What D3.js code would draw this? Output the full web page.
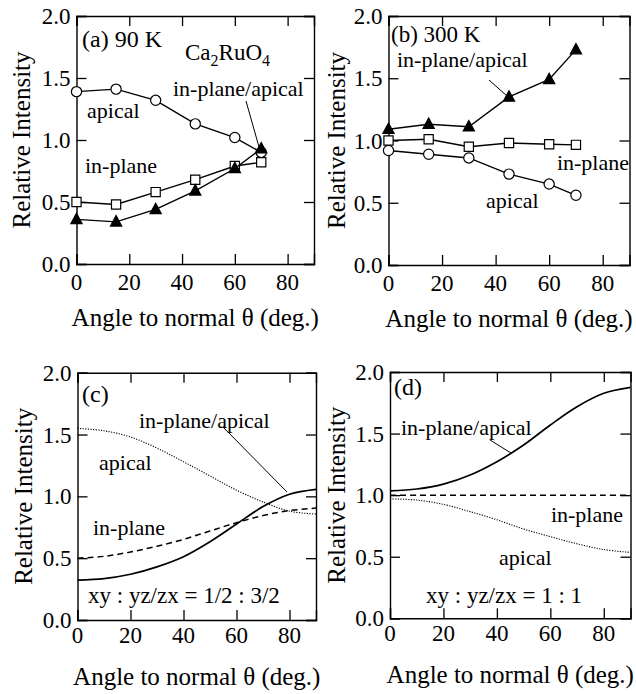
<!DOCTYPE html>
<html><head><meta charset="utf-8">
<script src="https://cdn.jsdelivr.net/npm/d3@7"></script>
<style>
html,body{margin:0;padding:0;background:#fff;}
svg text{font-family:"Liberation Serif","Times New Roman",serif;fill:#000;}
</style>
</head><body>
<svg id="chart" width="636" height="694" font-family="Liberation Serif, Times New Roman, serif"></svg>
<script>
// ---------- data ----------
const anglesMeas = [0, 15, 30, 45, 60, 70];
// (a) 90 K
const a_apical   = [1.39, 1.41, 1.32, 1.13, 1.02, 0.90];
const a_inplane  = [0.50, 0.48, 0.58, 0.68, 0.79, 0.82];
const a_ratio    = [0.36, 0.34, 0.44, 0.59, 0.77, 0.93];
// (b) 300 K
const b_apical   = [0.92, 0.89, 0.86, 0.73, 0.65, 0.56];
const b_inplane  = [1.00, 1.01, 0.95, 0.98, 0.97, 0.965];
const b_ratio    = [1.09, 1.13, 1.11, 1.35, 1.49, 1.73];
// (c), (d) calculated curves
const anglesCalc = [0, 10, 20, 30, 40, 50, 60, 70, 80, 90];
const c_apical   = [1.55, 1.53, 1.48, 1.39, 1.28, 1.165, 1.05, 0.955, 0.88, 0.857];
const c_inplane  = [0.50, 0.515, 0.55, 0.597, 0.652, 0.72, 0.787, 0.845, 0.885, 0.905];
const c_ratio    = [0.323, 0.335, 0.37, 0.43, 0.512, 0.633, 0.776, 0.917, 1.017, 1.057];
const d_apical   = [0.97, 0.96, 0.925, 0.866, 0.80, 0.725, 0.663, 0.605, 0.558, 0.535];
const d_inplane  = [1.0, 1.0, 1.0, 1.0, 1.0, 1.0, 1.0, 1.0, 1.0, 1.0];
const d_ratio    = [1.034, 1.05, 1.09, 1.164, 1.272, 1.407, 1.57, 1.718, 1.827, 1.875];
// axes
const xTicks = [0, 20, 40, 60, 80];
const yTicks = [0, 0.5, 1.0, 1.5, 2.0];
const xDomain = [0, 90];
const yDomain = [0, 2];
const xLabel = "Angle to normal θ (deg.)";
const yLabel = "Relative Intensity";

// ---------- layout ----------
const svg = d3.select("#chart");
const panels = [
  {id:"a", box:{l:76.5, r:314, t:16, b:264}, tickDy:26, xlabY:326, ylabX:30},
  {id:"b", box:{l:388.5, r:629.5, t:16, b:265}, tickDy:26, xlabY:327, ylabX:345},
  {id:"c", box:{l:77.5, r:316, t:372.7, b:620}, tickDy:23, xlabY:685, ylabX:31.5},
  {id:"d", box:{l:390, r:630.5, t:372, b:618.3}, tickDy:23, xlabY:683, ylabX:344.5}
];

function makePanel(p){
  const g = svg.append("g");
  const x = d3.scaleLinear().domain(xDomain).range([p.box.l, p.box.r]);
  const y = d3.scaleLinear().domain(yDomain).range([p.box.b, p.box.t]);
  const tl = 10;
  const bottom = g.append("g").attr("transform",`translate(0,${p.box.b})`)
    .call(d3.axisBottom(x).tickValues(xTicks).tickSize(-tl).tickFormat(""));
  const top = g.append("g").attr("transform",`translate(0,${p.box.t})`)
    .call(d3.axisTop(x).tickValues(xTicks).tickSize(-tl).tickFormat(""));
  const left = g.append("g").attr("transform",`translate(${p.box.l},0)`)
    .call(d3.axisLeft(y).tickValues(yTicks).tickSize(-tl).tickFormat(""));
  const right = g.append("g").attr("transform",`translate(${p.box.r},0)`)
    .call(d3.axisRight(y).tickValues(yTicks).tickSize(-tl).tickFormat(""));
  [bottom, top, left, right].forEach(a=>{
    a.select(".domain").attr("stroke","#000").attr("stroke-width",1.4);
    a.selectAll(".tick line").attr("stroke","#000").attr("stroke-width",1.3);
  });
  g.append("g").selectAll("text").data(xTicks).join("text")
    .attr("x", d=>x(d)).attr("y", p.box.b + p.tickDy)
    .attr("text-anchor","middle").attr("font-size",23).text(d=>d);
  g.append("g").selectAll("text").data(yTicks).join("text")
    .attr("x", p.box.l - 6).attr("y", d=>y(d)+8)
    .attr("text-anchor","end").attr("font-size",23).text(d=>d3.format(".1f")(d));
  g.append("text").attr("x",(p.box.l+p.box.r)/2).attr("y",p.xlabY)
    .attr("text-anchor","middle").attr("font-size",25).text(xLabel);
  g.append("text").attr("transform",`translate(${p.ylabX},${(p.box.t+p.box.b)/2}) rotate(-90)`)
    .attr("text-anchor","middle").attr("font-size",25).text(yLabel);
  return {g, x, y};
}

const P = panels.map(makePanel);

function measured(pan, vals, shape){
  const pts = anglesMeas.map((a,i)=>[a, vals[i]]);
  const line = d3.line().x(d=>pan.x(d[0])).y(d=>pan.y(d[1]));
  pan.g.append("path").attr("d", line(pts)).attr("fill","none")
    .attr("stroke","#000").attr("stroke-width",1.4);
  const sel = pan.g.append("g").selectAll("path").data(pts).join("path")
    .attr("transform", d=>`translate(${pan.x(d[0])},${pan.y(d[1])})`)
    .attr("stroke","#000").attr("stroke-width",1.2);
  if(shape==="circle"){
    sel.attr("d", d3.symbol(d3.symbolCircle, 82)()).attr("fill","#fff");
  } else if(shape==="square"){
    sel.attr("d", "M-4.6,-4.6H4.6V4.6H-4.6Z").attr("fill","#fff");
  } else {
    sel.attr("d", "M0,-6.2L5.6,4.2L-5.6,4.2Z").attr("fill","#000");
  }
}

function calc(pan, vals, style){
  const pts = anglesCalc.map((a,i)=>[a, vals[i]]);
  const line = d3.line().x(d=>pan.x(d[0])).y(d=>pan.y(d[1])).curve(d3.curveCatmullRom.alpha(0.5));
  const p = pan.g.append("path").attr("d", line(pts)).attr("fill","none").attr("stroke","#000");
  if(style==="solid") p.attr("stroke-width",1.7);
  if(style==="dashed") p.attr("stroke-width",1.5).attr("stroke-dasharray","6,4");
  if(style==="dotted") p.attr("stroke-width",1.1).attr("stroke-dasharray","1.2,1.4");
}

function label(pan, x, y, txt, size, anchor){
  return pan.g.append("text").attr("x",x).attr("y",y).attr("font-size",size||22)
    .attr("text-anchor",anchor||"start").text(txt);
}
function pointer(pan, x1,y1,x2,y2){
  pan.g.append("line").attr("x1",x1).attr("y1",y1).attr("x2",x2).attr("y2",y2)
    .attr("stroke","#000").attr("stroke-width",1);
}

// (a)
const A = P[0];
measured(A, a_apical, "circle");
measured(A, a_inplane, "square");
measured(A, a_ratio, "triangle");
label(A, 82, 47, "(a) 90 K", 24);
const ca = A.g.append("text").attr("x",185).attr("y",60).attr("font-size",23);
ca.append("tspan").text("Ca");
ca.append("tspan").attr("dy",6).attr("font-size",16).text("2");
ca.append("tspan").attr("dy",-6).text("RuO");
ca.append("tspan").attr("dy",6).attr("font-size",16).text("4");
label(A, 173, 96, "in-plane/apical");
pointer(A, 246, 101, 259, 147);
label(A, 87, 118, "apical");
label(A, 85, 173, "in-plane");

// (b)
const B = P[1];
measured(B, b_apical, "circle");
measured(B, b_inplane, "square");
measured(B, b_ratio, "triangle");
label(B, 391, 42, "(b) 300 K", 23);
label(B, 397, 67, "in-plane/apical");
pointer(B, 489, 80, 507, 96);
label(B, 629, 170, "in-plane", 22, "end");
label(B, 486, 208, "apical");

// (c)
const C = P[2];
calc(C, c_apical, "dotted");
calc(C, c_inplane, "dashed");
calc(C, c_ratio, "solid");
label(C, 82, 402, "(c)", 24);
label(C, 139, 428, "in-plane/apical");
pointer(C, 223, 427, 287, 492);
label(C, 99, 470, "apical");
label(C, 93, 535, "in-plane");
label(C, 88, 603, "xy : yz/zx = 1/2 : 3/2", 23);

// (d)
const D = P[3];
calc(D, d_apical, "dotted");
calc(D, d_inplane, "dashed");
calc(D, d_ratio, "solid");
label(D, 394, 395, "(d)", 24);
label(D, 401, 435, "in-plane/apical");
pointer(D, 490, 440, 511, 453);
label(D, 623, 522, "in-plane", 22, "end");
label(D, 499, 565, "apical");
label(D, 426, 603, "xy : yz/zx = 1 : 1", 23);
</script>
</body></html>
